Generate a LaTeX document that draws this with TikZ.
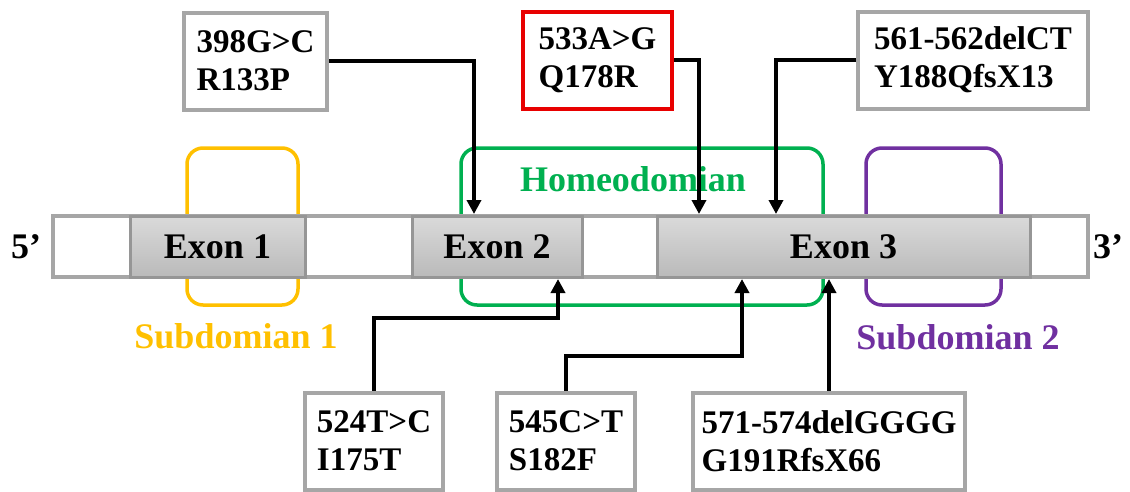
\documentclass[tikz,border=0pt]{standalone}
\usepackage{fontspec}
\setmainfont{Liberation Serif}
\definecolor{MutGray}{RGB}{166,166,166}
\definecolor{ExonEdge}{RGB}{150,150,150}
\definecolor{ExonTop}{RGB}{218,218,218}
\definecolor{ExonBot}{RGB}{186,186,186}
\definecolor{SubGold}{RGB}{255,192,0}
\definecolor{HomeoGreen}{RGB}{0,176,80}
\definecolor{SubPurple}{RGB}{112,48,160}
\definecolor{HotRed}{RGB}{232,0,0}
\usetikzlibrary{
    arrows.meta,
    positioning,
}

\begin{document}
\begin{tikzpicture}[x=1pt,y=-1pt,
        mutbox/.style={draw=MutGray, line width=4pt, fill=white, align=left, inner xsep=8pt, minimum height=97pt, font=\bfseries\fontsize{33}{38}\selectfont},
        exonbox/.style={draw=ExonEdge, line width=3pt, top color=ExonTop, bottom color=ExonBot, minimum height=61pt, font=\bfseries\fontsize{36}{40}\selectfont},
        dombox/.style={line width=3.5pt, rounded corners=16pt, minimum height=157pt},
        domlabel/.style={anchor=base, font=\bfseries\fontsize{36}{40}\selectfont},
        mutarrow/.style={line width=4pt, -{Triangle[width=14pt,length=14pt]}},
    ]
    \useasboundingbox (0,0) rectangle (1130,491);
    % domains (behind the gene)
    \node[dombox, draw=SubGold, minimum width=111pt] (sub1) at (242.5,226.5) {};
    \node[dombox, draw=HomeoGreen, minimum width=362pt] (homeo) at (642,226.5) {};
    \node[dombox, draw=SubPurple, minimum width=135pt] (sub2) at (933.5,226.5) {};
    \node[domlabel, text=SubGold] (sub1lab) at (236,348) {Subdomian 1};
    \node[domlabel, text=HomeoGreen] (homeolab) at (633,191) {Homeodomian};
    \node[domlabel, text=SubPurple] (sub2lab) at (958,349) {Subdomian 2};
    % gene
    \node[draw=MutGray, line width=4pt, fill=white, minimum width=1035pt, minimum height=61pt] (gene) at (570.5,246.5) {};
    \node[exonbox, minimum width=175pt] (ex1) at (217.5,246.5) {Exon 1};
    \node[exonbox, minimum width=170pt] (ex2) at (497,246.5) {Exon 2};
    \node[exonbox, minimum width=373pt] (ex3) at (843.5,246.5) {Exon 3};
    \node[domlabel] (five) at (26,258) {5’};
    \node[domlabel] (three) at (1108,258) {3’};
    % mutations
    \node[mutbox, minimum width=143pt] (m398) at (255.5,61) {398G>C\\R133P};
    \node[mutbox, draw=HotRed, minimum width=149pt] (m533) at (597.5,60) {533A>G\\Q178R};
    \node[mutbox, minimum width=230pt] (m561) at (973,60) {561-562delCT\\Y188QfsX13};
    \node[mutbox, minimum width=138pt] (m524) at (374,441) {524T>C\\I175T};
    \node[mutbox, minimum width=138pt] (m545) at (566,441) {545C>T\\S182F};
    \node[mutbox, minimum width=272pt] (m571) at (829,441) {571-574delGGGG\\G191RfsX66};
    \coordinate (t398) at (474,214);
    \coordinate (t533) at (699,214);
    \coordinate (t561) at (776,214);
    \coordinate (t524) at (558,279);
    \coordinate (t545) at (742,279);
    \coordinate (t571) at (829,279);
    \draw[mutarrow] (m398.east) -| (t398);
    \draw[mutarrow] (m533.east) -| (t533);
    \draw[mutarrow] (m561.west) -| (t561);
    \draw[mutarrow] (m524.north) -- ++(0,-73) -| (t524);
    \draw[mutarrow] (m545.north) -- ++(0,-35) -| (t545);
    \draw[mutarrow] (m571.north) -- (t571);
\end{tikzpicture}
\end{document}
